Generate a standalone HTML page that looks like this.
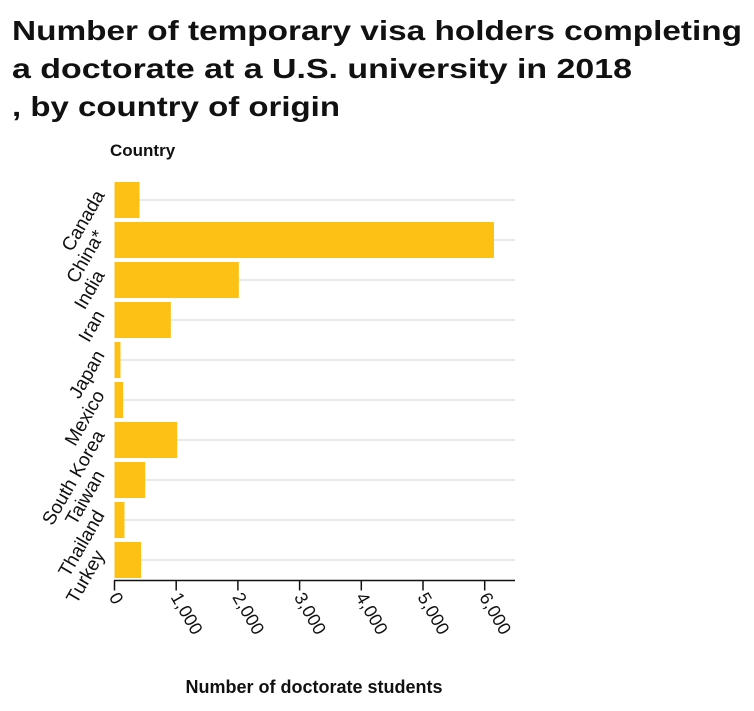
<!DOCTYPE html>
<html><head><meta charset="utf-8"><style>
body{margin:0;background:#fff;}
svg text{font-family:"Liberation Sans",sans-serif;}
</style></head><body>
<svg width="754" height="706" viewBox="0 0 754 706">
<g font-weight="bold" font-size="28" fill="#111">
<text x="12" y="40" textLength="730" lengthAdjust="spacingAndGlyphs">Number of temporary visa holders completing</text>
<text x="12" y="78" textLength="620" lengthAdjust="spacingAndGlyphs">a doctorate at a U.S. university in 2018</text>
<text x="12" y="116" textLength="328" lengthAdjust="spacingAndGlyphs">, by country of origin</text>
</g>
<text x="110" y="156" font-size="17" font-weight="bold" fill="#111">Country</text>
<text x="314" y="693" font-size="18" font-weight="bold" fill="#111" text-anchor="middle">Number of doctorate students</text>
<g id="grid"></g><g id="bars"></g><g id="yticks"></g><g id="xaxis"></g>
</svg>
<script>
const categories=["Canada","China*","India","Iran","Japan","Mexico","South Korea","Taiwan","Thailand","Turkey"];
const values=[405,6150,2015,913,97,141,1016,497,162,432];
const xTicks=[0,1000,2000,3000,4000,5000,6000];
const xTickLabels=["0","1,000","2,000","3,000","4,000","5,000","6,000"];
const NS="http://www.w3.org/2000/svg";
const x0=114.5,xr=61.7/1000,top0=180,band=40,right=515,axisY=580.5;
const xs=v=>x0+v*xr;
const ys=i=>top0+i*band;
function mk(t,a,p){const e=document.createElementNS(NS,t);for(const k in a)e.setAttribute(k,a[k]);p.appendChild(e);return e;}
const grid=document.getElementById('grid'),bars=document.getElementById('bars'),yt=document.getElementById('yticks'),xa=document.getElementById('xaxis');
categories.forEach((c,i)=>{
 const cy=ys(i)+band/2;
 const g=mk('line',{x1:x0,x2:right,y1:cy,y2:cy,stroke:'#dcdcdc','stroke-width':1.2},grid);
 
 
 const r=mk('rect',{x:x0,y:ys(i)+2,width:xs(values[i])-x0,height:band-4,fill:'#fdc015'},bars);
 
 
 const ay=cy-8;
 const t=mk('text',{x:100,y:ay+6,'font-size':19,fill:'#111','text-anchor':'end',transform:`rotate(-60 100 ${ay})`},yt);
 t.textContent=c;
 
 
});
const ax=mk('line',{x1:x0-0.5,x2:right,y1:axisY,y2:axisY,stroke:'#111','stroke-width':1.5},xa);


xTicks.forEach((v,i)=>{
 const x=xs(v);
 const l=mk('line',{x1:x,x2:x,y1:axisY,y2:axisY+10,stroke:'#111','stroke-width':1.5},xa);
 
 
 const t=mk('text',{x:x-6,y:597,'font-size':18,fill:'#111',transform:`rotate(60 ${x-6} 597)`},xa);
 t.textContent=xTickLabels[i];
 
 
});
</script>
</body></html>
